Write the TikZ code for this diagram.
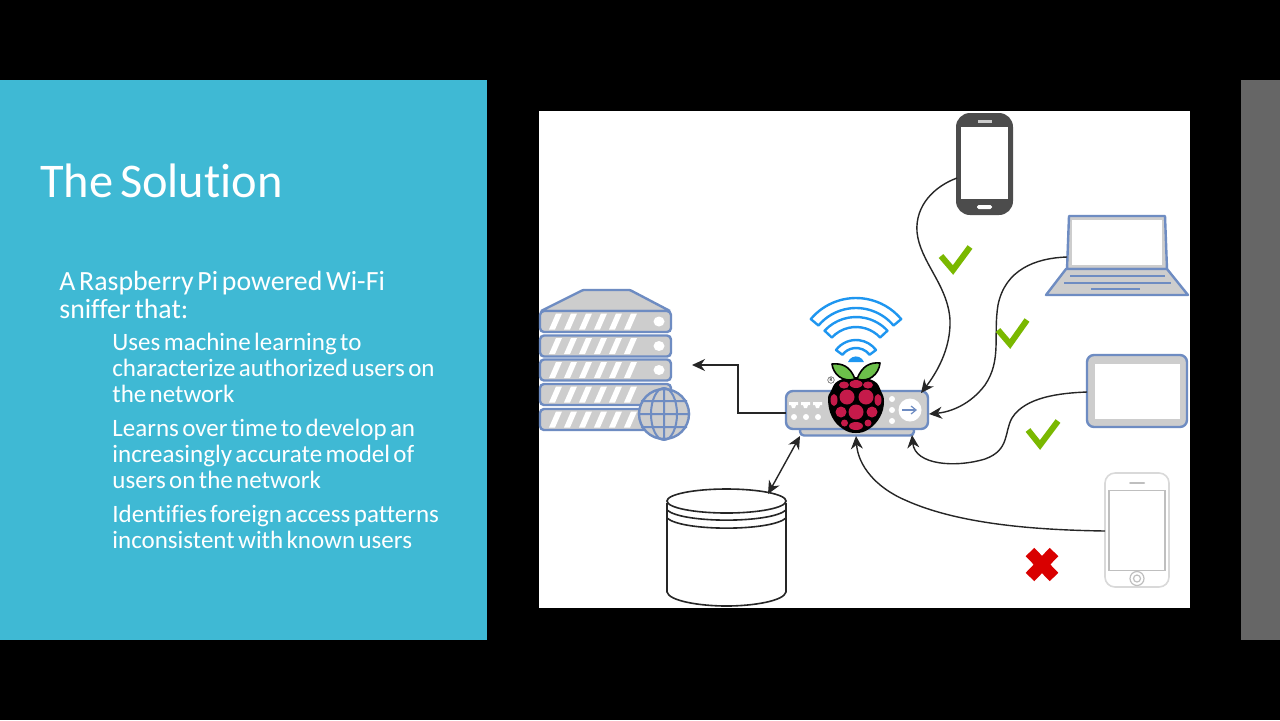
\documentclass[tikz,border=0pt]{standalone}
\usepackage{fontspec}
\setmainfont[WordSpace=0.6,Ligatures=NoCommon]{Carlito}
\usetikzlibrary{arrows.meta,calc}
\definecolor{panel}{HTML}{3FB9D4}
\definecolor{edge}{HTML}{6E8CC2}
\definecolor{fillg}{HTML}{CDCDCD}
\definecolor{wifi}{HTML}{1E96F0}
\definecolor{berry}{HTML}{C51A4A}
\definecolor{leaf}{HTML}{6CC04A}
\definecolor{okgreen}{HTML}{7AB800}
\tikzset{
  body/.style={draw=edge,fill=fillg,line width=1.2pt,rounded corners=2pt,inner sep=0pt,outer sep=0pt},
  screen/.style={fill=white,draw=none,inner sep=0pt,outer sep=0pt},
  link/.style={draw=black!85,line width=.7pt,-{Stealth[length=6.5pt,width=6pt]}},
  dblink/.style={draw=black!85,line width=.7pt,{Stealth[length=6.5pt,width=6pt]}-{Stealth[length=6.5pt,width=6pt]}},
  title/.style={anchor=base west,text=white,font=\fontsize{24.2}{26}\selectfont,inner sep=0pt},
  lead/.style={anchor=base west,text=white,font=\fontsize{13.9}{16}\selectfont,inner sep=0pt},
  sub/.style={anchor=base west,text=white,font=\fontsize{12.5}{15}\selectfont,inner sep=0pt},
  okmark/.style={draw=okgreen,line width=3pt},
  noband/.style={draw=wifi,fill=white,line width=1.2pt,line join=round},
  stripe/.style={fill=white,draw=none},
  dbline/.style={draw=black!85,line width=.8pt},
}
\newcommand{\boxat}[6][]{\node[#2,minimum width=#5*.5pt,minimum height=#6*.5pt,#1] (#3) at (#4) {};}
\newcommand{\wifiband}[4]{% cy, R, r, half angle
  \path[noband] ($(856,#1)+(270-#4:#2)$) arc[start angle=270-#4,end angle=270+#4,radius=#2]
     -- ($(856,#1)+(270+#4:#3)$) arc[start angle=270+#4,end angle=270-#4,radius=#3] -- cycle;}
\newcommand{\serverunit}[3]{%
  \boxat{body}{#1}{605.5,#2}{131}{#3}
  \foreach \k in {0,...,5}{\fill[stripe] ($(549+15*\k,#2+8)$) -- ($(555+15*\k,#2+8)$) -- ($(562+15*\k,#2-8)$) -- ($(556+15*\k,#2-8)$) -- cycle;}
}
\begin{document}
\begin{tikzpicture}[x=.5pt,y=-.5pt]
\useasboundingbox (0,0) rectangle (1280,720);
\fill[black] (0,0) rectangle (1280,720);
\fill[panel] (0,80) rectangle (487,640);
\fill[black!60] (1241,80) rectangle (1280,640);
\fill[white] (539,111) rectangle (1190,608);
% text
\node[title] (t0) at (40,197) {The Solution};
\node[lead] (t1) at (59,290) {A Raspberry Pi powered Wi-Fi};
\node[lead] (t2) at (59,318) {sniffer that:};
\node[sub] (t3) at (112,350) {Uses machine learning to};
\node[sub] (t4) at (112,376) {characterize authorized users on};
\node[sub] (t5) at (112,402) {the network};
\node[sub] (t6) at (112,436) {Learns over time to develop an};
\node[sub] (t7) at (112,462) {increasingly accurate model of};
\node[sub] (t8) at (112,488) {users on the network};
\node[sub] (t9) at (112,522) {Identifies foreign access patterns};
\node[sub] (t10) at (112,548) {inconsistent with known users};
% server
\path[body,rounded corners=.5pt] (541,311) -- (583,290) -- (630,290) -- (670,311) -- cycle;
\serverunit{s1}{321.5}{21}
\serverunit{s2}{346}{21}
\serverunit{s3}{370}{21}
\serverunit{s4}{394.5}{21}
\serverunit{s5}{419.5}{21}
\foreach \y in {321.5,346,370}{\fill[white] (659,\y) circle[x radius=5.5,y radius=5];}
\node[circle,draw=edge,fill=fillg,line width=1.2pt,minimum size=25pt,inner sep=0pt] (globe) at (664,414) {};
\draw[edge,line width=1pt] (globe.north) -- (globe.south) (globe.west) -- (globe.east)
  (664,388) arc[start angle=270,end angle=450,x radius=13,y radius=26]
  (664,388) arc[start angle=270,end angle=90,x radius=13,y radius=26]
  (641,401) -- (687,401) (641,427) -- (687,427);
% database
\path[dbline,fill=white] (667,503) -- (667,592) .. controls (669,601) and (700,606) .. (726.5,606) .. controls (753,606) and (784,601) .. (786,592) -- (786,503);
\draw[dbline] (726.5,501) circle[x radius=59.5,y radius=12];
\draw[dbline] (667,510) .. controls (682,523.5) and (771,523.5) .. (786,510);
\draw[dbline] (667,518) .. controls (682,531.5) and (771,531.5) .. (786,518);
\coordinate (dbport) at (768,494);
% router
\boxat{body}{routerbase}{857,431}{114}{9}
\boxat{body,rounded corners=3.5pt}{router}{857,410}{142}{38}
\foreach \x in {794,806,818}{\fill[white] (\x-5,402) -- (\x+4,402) -- (\x+4,405) -- (\x+2,405) -- (\x+1,408) -- (\x-2,408) -- (\x-3,405) -- (\x-5,405) -- cycle;}
\foreach \x in {794,806,818}{\fill[white] (\x,417) circle[radius=3];}
\foreach \y in {399,410,421}{\fill[white] (892,\y) circle[radius=3];}
\node[circle,fill=white,minimum size=11.5pt,inner sep=0pt] (btn) at (910,410) {};
\draw[edge,line width=.6pt,-{Straight Barb[length=2.5pt,width=4pt]}] (902,410) -- (917,410);
\coordinate (routerport) at (786,413);
% wifi
\wifiband{357}{59}{49}{50}
\wifiband{360}{43}{33}{47}
\wifiband{365}{25}{17}{53}
\fill[wifi] (848,362) arc[start angle=200,end angle=340,radius=8.5] -- cycle;
% raspberry
\fill[black] plot[smooth cycle,tension=.7] coordinates {(828,400) (831,391) (838,381) (856,377) (874,381) (881,391) (884,402) (880,417) (869,429) (856,433) (843,429) (832,417)};
\foreach \px/\py/\rx/\ry in {856/384/6.5/4, 844/385/5/3.5, 868/385/5/3.5, 847/397/7.5/7.5, 866/397/7.5/7.5, 834/400/3.5/6, 878/400/3.5/6, 856/412/7.5/7.5, 841/412/5.5/5.5, 872/412/5.5/5.5, 856/426/7/4, 844.5/423/3.5/3.5, 868/423/3.5/3.5}{\fill[berry] (\px,\py) circle[x radius=\rx,y radius=\ry];}
\path[draw=black,fill=leaf,line width=.8pt,line join=round] (855,379) .. controls (850,366) and (842,363) .. (832,364) .. controls (833,374) and (843,383) .. (855,379) -- cycle;
\path[draw=black,fill=leaf,line width=.8pt,line join=round] (857,379) .. controls (862,366) and (870,362) .. (880,363) .. controls (879,374) and (869,383) .. (857,379) -- cycle;
\node[circle,draw=black!70,line width=.25pt,inner sep=.4pt,font=\fontsize{2.6}{3}\selectfont] (reg) at (831,380) {R};
% phone
\boxat{draw=none,fill=black!70,rounded corners=7pt,inner sep=0pt}{phone}{984.5,164}{57}{102}
\boxat{screen}{phonescr}{984.5,163}{47}{72}
\fill[black!20] (978,120) rectangle (992,122.5);
\fill[white,rounded corners=.8pt] (977,205) rectangle (992,209);
\coordinate (phoneport) at (957,178);
% laptop
\path[draw=edge,fill=fillg,line width=1.2pt,line join=round] (1069,216) -- (1165,216) -- (1167,269) -- (1067,269) -- cycle;
\fill[white] (1072,220) rectangle (1162,265);
\path[draw=edge,fill=fillg,line width=1.2pt,line join=round] (1066,269) -- (1167,269) -- (1188,295) -- (1046,295) -- cycle;
\draw[edge,line width=1.1pt] (1070,276) -- (1165,276) (1064,283) -- (1171,283) (1091,289) -- (1140,289);
\coordinate (laptopport) at (1067,257);
% tablet
\boxat{body,rounded corners=3.5pt}{tablet}{1137,391}{100}{72}
\boxat{screen}{tabletscr}{1137.5,391}{85}{55}
\coordinate (tabletport) at (1087,392);
% iphone
\boxat{draw=black!15,fill=white,line width=.8pt,rounded corners=5pt,inner sep=0pt}{iphone}{1137,530}{64}{114}
\boxat{draw=black!25,fill=white,line width=.6pt,inner sep=0pt}{iphonescr}{1137,530.5}{56}{80}
\draw[black!25,line width=1pt,line cap=round] (1130,483) -- (1144,483);
\draw[black!25,line width=.6pt] (1137,578.5) circle[radius=7] (1137,578.5) circle[radius=3.5];
\coordinate (iphoneport) at (1105,531);
% connectors
\coordinate (p1) at (921,393); \coordinate (p2) at (929,414); \coordinate (p3) at (912,435); \coordinate (p4) at (856,436);
\coordinate (srv) at (692,365);
\draw[link] (phoneport) .. controls (935,186) and (915,205) .. (917,232) .. controls (920,262) and (948,285) .. (950,320) .. controls (951,350) and (935,375) .. (p1);
\draw[link] (laptopport) .. controls (1035,258) and (1005,270) .. (998,305) .. controls (993,335) and (1002,360) .. (985,385) .. controls (970,405) and (950,412) .. (p2);
\draw[link] (tabletport) .. controls (1060,393) and (1025,397) .. (1012,418) .. controls (1004,432) and (1010,450) .. (985,459) .. controls (955,468) and (915,465) .. (p3);
\draw[link] (iphoneport) .. controls (1040,530) and (960,525) .. (905,500) .. controls (875,487) and (858,465) .. (p4);
\draw[link] (routerport) -- (738,413) -- (738,365) -- (srv);
\draw[dblink] (800,436) -- (dbport);
% marks
\draw[okmark] (941,256) -- (953,270) -- (970,247);
\draw[okmark] (998,330) -- (1010,344) -- (1027,320);
\draw[okmark] (1028,430) -- (1040,445) -- (1058,421);
\draw[draw=red!85!black,line width=6pt] (1030,552) -- (1054,577) (1054,552) -- (1030,577);
\end{tikzpicture}
\end{document}
